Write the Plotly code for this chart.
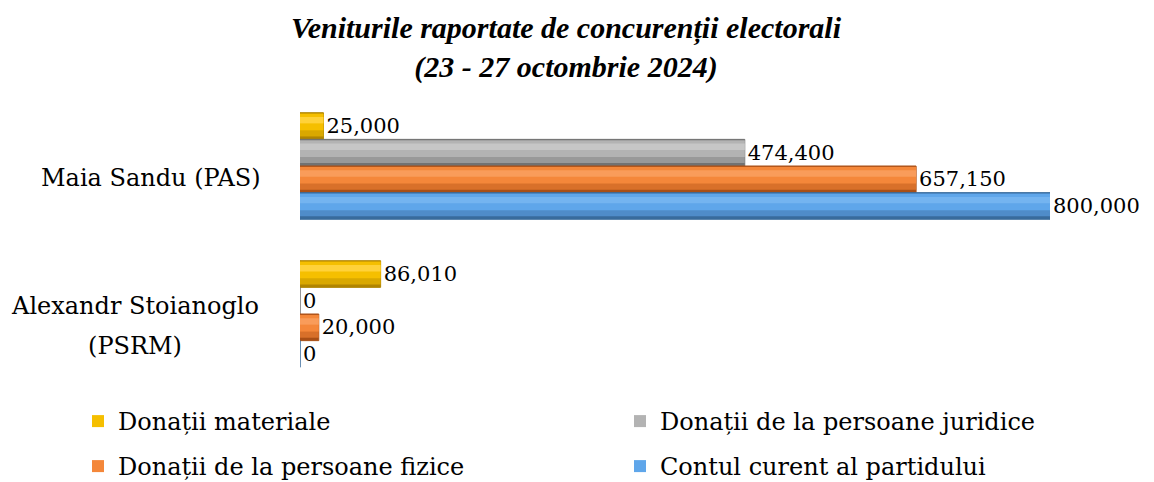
import plotly.graph_objects as go

candidates = ["Maia Sandu (PAS)", "Alexandr Stoianoglo<br>(PSRM)"]
series_names = [
    "Donații materiale",
    "Donații de la persoane juridice",
    "Donații de la persoane fizice",
    "Contul curent al partidului",
]
donatii_materiale = [25000, 86010]
donatii_juridice = [474400, 0]
donatii_fizice = [657150, 20000]
contul_curent = [800000, 0]

values = [donatii_materiale, donatii_juridice, donatii_fizice, contul_curent]
# cylinder shading layers: (color list, relative offset from top, relative width)
dark = ["#B08500", "#727272", "#A94F16", "#386B9C"]
shade = ["#D9A800", "#999999", "#D8702A", "#4F8CC9"]
main = ["#F5BF00", "#B3B3B3", "#F4873A", "#5FA6EA"]
light = ["#FFD23A", "#C6C6C6", "#F99C5A", "#74B4F0"]
legend_ids = ["legend", "legend2", "legend3", "legend4"]
legend_pos = [(78, 399), (620, 399), (78, 444), (620, 444)]

FONT = "DejaVu Serif"
TITLE_FONT = "Liberation Serif"
W, H = 1154, 482
BW = 0.18  # bar slot width in category units

fig = go.Figure()
for i, (name, vals, lg) in enumerate(zip(series_names, values, legend_ids)):
    off = -2 * BW + i * BW
    # dark base (full cylinder) carrying the value labels
    fig.add_trace(go.Bar(
        y=candidates, x=vals, orientation="h", width=BW, offset=off,
        marker=dict(color=dark[i], line=dict(color=dark[i], width=1)),
        texttemplate="%{x:,}", textposition="outside",
        textfont=dict(family=FONT, size=21, color="black"),
        cliponaxis=False, showlegend=False, hoverinfo="skip",
    ))
    # shaded lower part
    fig.add_trace(go.Bar(
        y=candidates, x=vals, orientation="h",
        width=BW * 0.86, offset=off + BW * 0.03,
        marker=dict(color=shade[i], line=dict(width=0)),
        showlegend=False, hoverinfo="skip", textposition="none",
    ))
    # main body
    fig.add_trace(go.Bar(
        y=candidates, x=vals, name=name, orientation="h",
        width=BW * 0.62, offset=off + BW * 0.04,
        marker=dict(color=main[i], line=dict(width=0)),
        legend=lg, textposition="none",
    ))
    # highlight
    fig.add_trace(go.Bar(
        y=candidates, x=vals, orientation="h",
        width=BW * 0.24, offset=off + BW * 0.16,
        marker=dict(color=light[i], line=dict(width=0)),
        showlegend=False, hoverinfo="skip", textposition="none",
    ))

for c in candidates:
    lines = c.split("<br>")
    n = len(lines)
    for k, ln in enumerate(lines):
        fig.add_annotation(
            x=0, xref="paper", xanchor="right", xshift=-37,
            y=c, yref="y", yshift=-(12 + (k - (n - 1) / 2) * 40),
            text=ln, showarrow=False,
            width=252 if n > 1 else None, align="center" if n > 1 else "right",
            font=dict(family=FONT, size=24, color="black"),
        )

legend_font = dict(family=FONT, size=24, color="black")
legends = {}
for lg, (lx, ly) in zip(legend_ids, legend_pos):
    legends[lg] = dict(orientation="h", xref="container", yref="container",
                       x=lx / W, y=1 - ly / H, xanchor="left", yanchor="top",
                       font=legend_font, bgcolor="rgba(0,0,0,0)")

fig.update_layout(
    width=W, height=H, showlegend=True,
    paper_bgcolor="white", plot_bgcolor="white",
    margin=dict(l=300, r=104, t=92, b=94, autoexpand=False),
    barmode="overlay",
    title=dict(
        text="<b><i>Veniturile raportate de concurenții electorali<br>(23 - 27 octombrie 2024)</i></b>",
        x=566 / W, xref="container", xanchor="center", y=1 - 38 / H, yanchor="middle",
        font=dict(family=TITLE_FONT, size=30, color="black"),
    ),
    xaxis=dict(range=[0, 800000], visible=False),
    yaxis=dict(autorange="reversed", showticklabels=False, showgrid=False, zeroline=False, showline=False),
    **legends,
)

fig.write_html("out.html", config={"displayModeBar": False},
               post_script="document.body.style.margin='0';document.body.style.padding='0';")
